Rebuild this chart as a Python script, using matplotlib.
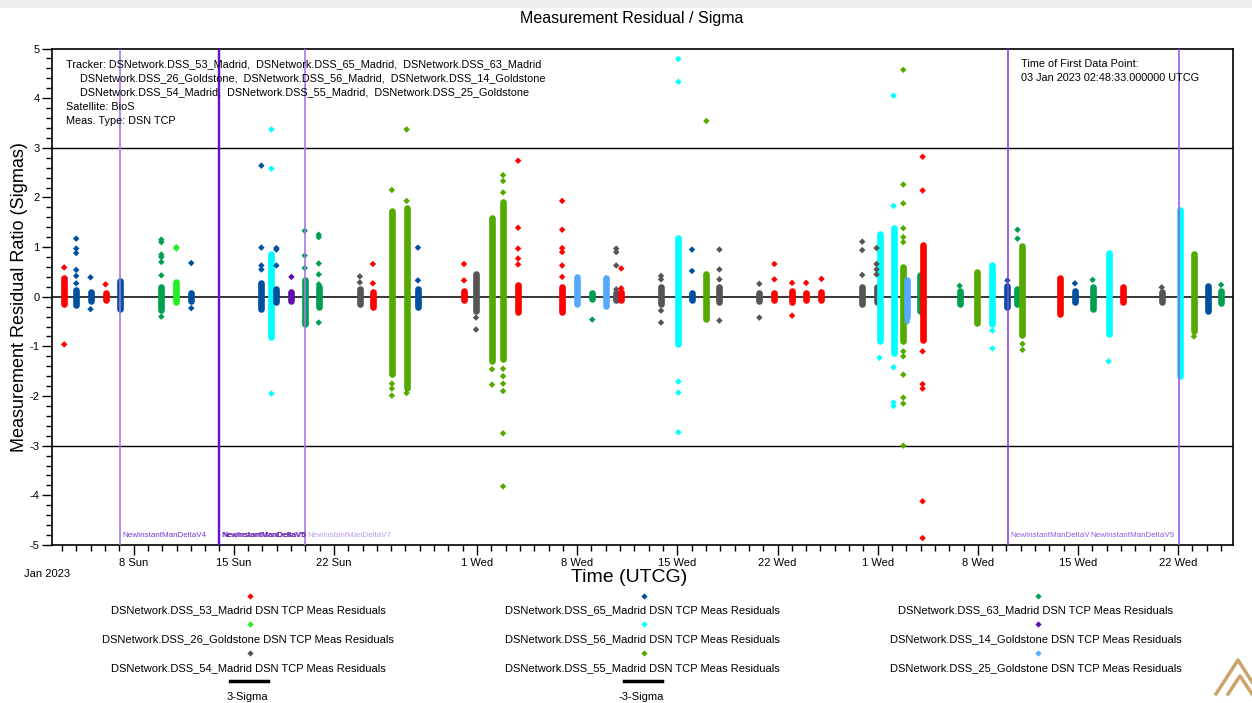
import numpy as np
import matplotlib
matplotlib.use('Agg')
import matplotlib.pyplot as plt
from matplotlib.lines import Line2D
from matplotlib.patches import Rectangle

plt.rcParams['font.family'] = ['Liberation Sans', 'DejaVu Sans']

W, H = 1252, 703

# Tracking stations, in legend order (row by row)
stations = ['DSS_53_Madrid', 'DSS_65_Madrid', 'DSS_63_Madrid',
            'DSS_26_Goldstone', 'DSS_56_Madrid', 'DSS_14_Goldstone',
            'DSS_54_Madrid', 'DSS_55_Madrid', 'DSS_25_Goldstone']
station_colors = ['#ff0000', '#0050a0', '#00a050',
                  '#22ee22', '#00ffff', '#5a10a8',
                  '#555555', '#55aa00', '#55aaff']

# Tracking passes (time in days after 2023-01-01 00:00 UTCG)
pass_station = ['53', '65', '65', '53', '65', '63', '26', '65', '65', '56',
                '65', '14', '63', '63', '54', '53', '55', '55', '65', '53',
                '54', '55', '55', '53', '53', '25', '63', '25', '54', '53',
                '54', '56', '65', '55', '54', '54', '53', '53', '53', '53',
                '54', '54', '56', '56', '55', '25', '63', '53', '63', '55',
                '56', '65', '63', '55', '53', '65', '63', '56', '53', '54',
                '56', '55', '65', '63']
pass_day = [2.15, 2.99, 3.99, 5.04, 6.02, 8.94, 9.99, 11.03, 15.93, 16.63,
            16.98, 18.03, 18.96, 19.94, 22.81, 23.72, 25.05, 26.08, 26.87, 30.09,
            30.93, 32.05, 32.82, 33.87, 36.95, 38.0, 39.05, 40.03, 40.73, 41.08,
            43.86, 45.07, 46.02, 47.03, 47.94, 50.73, 51.78, 53.02, 54.0, 55.07,
            57.92, 58.92, 59.13, 60.11, 60.79, 61.07, 61.93, 62.14, 64.73, 65.97,
            67.02, 68.07, 68.77, 69.12, 71.73, 72.78, 74.02, 75.14, 76.11, 78.85,
            80.13, 81.1, 82.06, 83.0]
# dense part of each pass (sigmas)
core_low = [-0.14, -0.17, -0.08, -0.06, -0.24, -0.27, -0.1, -0.08, -0.24, -0.82,
            -0.1, -0.08, -0.55, -0.2, -0.14, -0.2, -1.55, -1.83, -0.2, -0.07,
            -0.28, -1.29, -1.25, -0.3, -0.3, -0.15, -0.05, -0.18, -0.06, -0.07,
            -0.14, -0.95, -0.06, -0.45, -0.1, -0.08, -0.07, -0.1, -0.07, -0.06,
            -0.14, -0.1, -0.89, -1.13, -0.9, -0.4, -0.28, -0.88, -0.15, -0.52,
            -0.55, -0.21, -0.15, -0.78, -0.34, -0.1, -0.25, -0.76, -0.1, -0.1,
            -1.59, -0.68, -0.28, -0.12]
core_high = [0.38, 0.13, 0.09, 0.08, 0.32, 0.2, 0.3, 0.08, 0.27, 0.87,
             0.15, 0.1, 0.33, 0.2, 0.16, 0.1, 1.73, 1.79, 0.15, 0.12,
             0.46, 1.59, 1.9, 0.23, 0.2, 0.4, 0.07, 0.37, 0.08, 0.1,
             0.2, 1.19, 0.08, 0.46, 0.2, 0.08, 0.08, 0.12, 0.08, 0.09,
             0.2, 0.2, 1.27, 1.39, 0.6, 0.33, 0.43, 1.05, 0.12, 0.49,
             0.63, 0.22, 0.15, 1.03, 0.37, 0.12, 0.2, 0.89, 0.2, 0.1,
             1.75, 0.86, 0.22, 0.12]
# isolated residuals of each pass (sigmas)
outliers = [[0.59, -0.96], [1.17, 0.97, 0.88, 0.54, 0.42, 0.27], [0.39, -0.25], [0.25], [],
            [1.15, 1.1, 0.85, 0.8, 0.7, 0.43, -0.4], [1.0, 0.97], [0.68, -0.23],
            [2.64, 0.99, 0.63, 0.55, 0.25], [3.37, 2.58, -1.95],
            [0.98, 0.95, 0.63], [0.4], [1.33, 0.83, 0.58], [1.25, 1.2, 0.67, 0.45, 0.25, -0.52],
            [0.41, 0.29], [0.66, 0.27], [2.15, -1.75, -1.85, -1.99], [3.37, 1.93, -1.94],
            [0.99, 0.33], [0.66, 0.33],
            [-0.42, -0.66], [-1.46, -1.77], [2.45, 2.33, 2.1, -1.45, -1.6, -1.75, -1.9, -2.75, -3.82],
            [2.74, 1.39, 0.97, 0.77, 0.65], [1.93, 1.35, 0.98, 0.9, 0.63, 0.4], [], [-0.46], [],
            [0.97, 0.9, 0.63, 0.15], [0.57, 0.17],
            [0.42, 0.35, -0.28, -0.52], [4.79, 4.33, -1.71, -1.93, -2.73], [0.95, 0.52], [3.54],
            [0.95, 0.55, 0.35, -0.48], [0.26, -0.42], [0.66, 0.35], [0.28, -0.38], [0.28], [0.36],
            [1.11, 0.94, 0.44], [0.98, 0.66, 0.55, 0.45], [-1.23], [4.05, 1.83, -1.42, -2.13, -2.2],
            [4.57, 2.26, 1.88, 1.38, 1.2, 1.1, -1.1, -1.2, -1.57, -2.03, -2.15, -3.0],
            [-0.5], [], [2.82, 2.14, -1.1, -1.76, -1.85, -4.12, -4.86], [0.22], [],
            [-0.68, -1.04], [0.33], [1.35, 1.17], [-0.95, -1.07], [], [0.27], [0.34], [-1.3], [], [0.19],
            [], [-0.8], [], [0.24]]

# Maneuver events
event_names = ['NewInstantManDeltaV4', 'NewInstantManDeltaV5', 'NewInstantManDeltaV6',
               'NewInstantManDeltaV7', 'NewInstantManDeltaV8', 'NewInstantManDeltaV9']
event_days = [6.03, 12.96, 12.98, 18.98, 68.09, 80.04]
event_line_colors = ['#a57ae2', '#6414c4', '#6414c4', '#a57ae2', '#8a44e0', '#9a5ae8']
event_text_colors = ['#7a34d4', '#5e14b4', '#5e14b4', '#b89af0', '#8a5ae4', '#8a5ae4']

tick_days = [7, 14, 21, 31, 38, 45, 52, 59, 66, 73, 80]
tick_labels = ['8 Sun', '15 Sun', '22 Sun', '1 Wed', '8 Wed', '15 Wed', '22 Wed',
               '1 Wed', '8 Wed', '15 Wed', '22 Wed']
sigma_limit = 3

tracker_lines = ['Tracker: DSNetwork.DSS_53_Madrid,  DSNetwork.DSS_65_Madrid,  DSNetwork.DSS_63_Madrid',
                 'DSNetwork.DSS_26_Goldstone,  DSNetwork.DSS_56_Madrid,  DSNetwork.DSS_14_Goldstone',
                 'DSNetwork.DSS_54_Madrid,  DSNetwork.DSS_55_Madrid,  DSNetwork.DSS_25_Goldstone',
                 'Satellite: BioS',
                 'Meas. Type: DSN TCP']


def fx(px):
    return px / W


def fy(py):
    return 1 - py / H


color_of = {s.split('_')[1]: c for s, c in zip(stations, station_colors)}

fig = plt.figure(figsize=(W / 100, H / 100), dpi=100)
fig.add_artist(Rectangle((0, fy(8)), 1, 8 / H, transform=fig.transFigure,
                         facecolor='#efefef', edgecolor='none'))

left, right, top, bottom = 52.3, 1232.7, 48.5, 545
ax = fig.add_axes([fx(left), fy(bottom), (right - left) / W, (bottom - top) / H])

# zero and sigma lines
ax.axhline(0, color='black', lw=1.1, zorder=1)
ax.axhline(sigma_limit, color='black', lw=1.0, zorder=1)
ax.axhline(-sigma_limit, color='black', lw=1.0, zorder=1)

# dense pass cores
core_colors = [color_of[s] for s in pass_station]
ax.vlines(pass_day, core_low, core_high, colors=core_colors, lw=4.8, capstyle='round', zorder=2)

# isolated points
ox, oy, oc = [], [], []
for s, d, pts in zip(pass_station, pass_day, outliers):
    for v in pts:
        ox.append(d)
        oy.append(v)
        oc.append(color_of[s])
ax.scatter(ox, oy, c=oc, marker='D', s=11, linewidths=0, zorder=3)

# maneuver markers
for name, d, lc, tc in zip(event_names, event_days, event_line_colors, event_text_colors):
    lw = 1.6 if lc == '#6414c4' else 1.2
    ax.axvline(d, color=lc, lw=lw, zorder=4)
    if name.endswith('V9'):
        ax.text(d - 0.3, -4.8, name, color=tc, fontsize=5.8, ha='right', va='center',
                zorder=5, bbox=dict(facecolor='white', edgecolor='none', pad=0.5))
    else:
        ax.text(d + 0.2, -4.8, name, color=tc, fontsize=5.8, ha='left', va='center', zorder=5)

ax.set_xlim(1.32, 83.81)
ax.set_ylim(-5, 5)
ax.set_xticks(tick_days)
ax.set_xticklabels(tick_labels, fontsize=8)
ax.set_xticks(np.arange(2, 84), minor=True)
ax.set_yticks(np.arange(-5, 6))
ax.set_yticklabels([str(v) for v in range(-5, 6)], fontsize=8)
ax.set_yticks(np.arange(-5, 5.01, 0.2), minor=True)
ax.tick_params(which='major', direction='out', length=7, width=1, pad=2)
ax.tick_params(which='minor', direction='out', length=4, width=1)
for sp in ax.spines.values():
    sp.set_linewidth(1.2)

ax.set_ylabel('Measurement Residual Ratio (Sigmas)', fontsize=13)
ax.yaxis.set_label_coords((28 - left) / (right - left), 0.5)

fig.text(fx(632), fy(19), 'Measurement Residual / Sigma', fontsize=11.5, ha='center', va='center')
fig.text(fx(629), fy(577), 'Time (UTCG)', fontsize=14, ha='center', va='center')
fig.text(fx(47), fy(574), 'Jan 2023', fontsize=8, ha='center', va='center')

# info block
for i, line in enumerate(tracker_lines):
    x0 = 80 if i in (1, 2) else 66
    fig.text(fx(x0), fy(64 + i * 14.3), line, fontsize=7.8, ha='left', va='center')
fig.text(fx(1021), fy(64), 'Time of First Data Point:', fontsize=7.8, ha='left', va='center')
fig.text(fx(1021), fy(78.3), '03 Jan 2023 02:48:33.000000 UTCG', fontsize=7.8, ha='left', va='center')

# legend below the plot: marker above label
col_x = [250, 644, 1038]
mark_y = [596, 624, 653]
text_y = [610, 639, 668]
for k, (s, c) in enumerate(zip(stations, station_colors)):
    r, col = divmod(k, 3)
    fig.add_artist(Line2D([fx(col_x[col])], [fy(mark_y[r])], marker='D', ms=3.2, color=c,
                          markeredgewidth=0, linestyle='none', transform=fig.transFigure))
    fig.text(fx(col_x[col] - 2), fy(text_y[r]), 'DSNetwork.' + s + ' DSN TCP Meas Residuals',
             fontsize=8, ha='center', va='center')
for col, lab in zip([0, 1], ['3-Sigma', '-3-Sigma']):
    cx = col_x[col] - 1
    fig.add_artist(Line2D([fx(cx - 19), fx(cx + 19)], [fy(681), fy(681)], color='black', lw=2.5,
                          transform=fig.transFigure))
    fig.text(fx(cx - 2), fy(697), lab, fontsize=8, ha='center', va='center')

# corner logo
fig.add_artist(Line2D([fx(1216), fx(1238), fx(1252)], [fy(694), fy(660), fy(682)],
                      color='#c9a46c', lw=2.5, transform=fig.transFigure))
fig.add_artist(Line2D([fx(1228), fx(1240), fx(1252)], [fy(694), fy(676), fy(694)],
                      color='#c9a46c', lw=2.5, transform=fig.transFigure))

fig.savefig('out.png', dpi=100)
